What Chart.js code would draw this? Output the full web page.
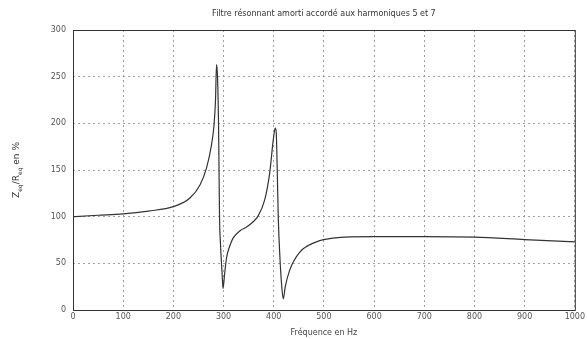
<!DOCTYPE html>
<html>
<head>
<meta charset="utf-8">
<script src="https://cdn.jsdelivr.net/npm/chart.js@4/dist/chart.umd.min.js"></script>
<style>
  html, body { margin: 0; padding: 0; background: #fff; }
  #impedance { display: block; }
</style>
</head>
<body>
<canvas id="impedance" width="587" height="339"></canvas>
<script>
// frequence (Hz) et impedance equivalente rapportee a Req (%)
const freq_hz = [0, 50, 100, 150, 200, 233, 253, 266, 276, 281, 284, 286, 288, 290, 291, 292, 294, 297, 299,
  302, 306, 312, 319, 333, 346, 358, 368, 382, 392, 399, 403, 405, 407, 409, 412, 416, 419,
  423, 432, 452, 485, 518, 600, 700, 800, 900, 1000];
const zeq_pct = [100, 101.5, 103, 106, 110.7, 120, 134, 152, 177, 198, 225, 263, 250, 200, 150, 100, 70, 40, 23,
  38, 56, 68, 77, 85, 89, 94, 100, 118, 147, 182, 195, 190, 150, 100, 60, 25, 12,
  25, 43, 62, 73, 77, 78.6, 78.6, 78, 75.5, 73];
const x_ticks = [0, 100, 200, 300, 400, 500, 600, 700, 800, 900, 1000];
const y_ticks = [0, 50, 100, 150, 200, 250, 300];

const points = freq_hz.map((f, i) => ({ x: f, y: zeq_pct[i] }));

// cadre, titre et libelle vertical avec indices
const frame_plugin = {
  id: 'frame',
  afterDraw(chart) {
    const { ctx, chartArea: a } = chart;
    ctx.save();
    ctx.strokeStyle = '#333';
    ctx.lineWidth = 1;
    ctx.strokeRect(a.left + 0.5, a.top + 0.5, a.right - a.left, a.bottom - a.top);

    ctx.fillStyle = '#333';
    ctx.font = '8px "DejaVu Sans"';
    ctx.textAlign = 'center';
    ctx.textBaseline = 'middle';
    ctx.fillText('Filtre résonnant amorti accordé aux harmoniques 5 et 7', (a.left + a.right) / 2, 14);

    // Zeq/Req en %
    ctx.translate(17, (a.top + a.bottom) / 2);
    ctx.rotate(-Math.PI / 2);
    const parts = [['Z', 0, 9], ['eq', 3, 6], ['/R', 0, 9], ['eq', 3, 6], [' en %', 0, 9]];
    ctx.textAlign = 'left';
    let w = 0;
    parts.forEach(p => { ctx.font = p[2] + 'px "DejaVu Sans"'; w += ctx.measureText(p[0]).width; });
    let x = -w / 2;
    parts.forEach(p => {
      ctx.font = p[2] + 'px "DejaVu Sans"';
      ctx.fillText(p[0], x, p[1]);
      x += ctx.measureText(p[0]).width;
    });
    ctx.restore();
  }
};

new Chart(document.getElementById('impedance'), {
  type: 'line',
  data: {
    datasets: [{
      data: points,
      borderColor: '#333',
      borderWidth: 1.2,
      pointRadius: 0,
      cubicInterpolationMode: 'monotone',
      fill: false
    }]
  },
  options: {
    responsive: false,
    animation: false,
    devicePixelRatio: 1,
    layout: { padding: { top: 30, right: 12, left: 0, bottom: 0 } },
    plugins: { legend: { display: false }, tooltip: { enabled: false } },
    scales: {
      x: {
        type: 'linear',
        min: 0, max: 1000,
        afterFit: s => { s.height = 29; },
        afterBuildTicks: s => { s.ticks = x_ticks.map(v => ({ value: v })); },
        ticks: { color: '#555', font: { size: 8, family: 'DejaVu Sans' }, padding: 2, maxRotation: 0,
          callback: v => String(v) },
        grid: { color: '#8a8a8a', lineWidth: 0.8, drawTicks: false },
        border: { display: false, dash: [2, 3] },
        title: { display: true, text: 'Fréquence en Hz', color: '#444', font: { size: 8, family: 'DejaVu Sans' }, padding: { top: 0, bottom: 1 } }
      },
      y: {
        min: 0, max: 300,
        afterFit: s => { s.width = 73; },
        afterBuildTicks: s => { s.ticks = y_ticks.map(v => ({ value: v })); },
        ticks: { color: '#555', font: { size: 8, family: 'DejaVu Sans' }, padding: 7 },
        grid: { color: '#8a8a8a', lineWidth: 0.8, drawTicks: false },
        border: { display: false, dash: [2, 3] }
      }
    }
  },
  plugins: [frame_plugin]
});
</script>
</body>
</html>
